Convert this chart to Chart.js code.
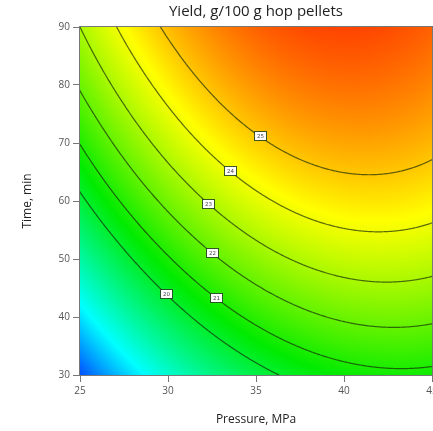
<!DOCTYPE html>
<html>
<head>
<meta charset="utf-8">
<script src="https://cdn.jsdelivr.net/npm/chart.js@4"></script>
<style>
  html, body { margin: 0; padding: 0; overflow: hidden; background: #fff; }
  canvas { display: block; }
</style>
</head>
<body>
<canvas id="contorno" width="470" height="431"></canvas>
<script>
// yield surface (g/100 g) on the pressure x time grid
var pressao = [25, 30, 35, 40, 45];
var tempo = [30, 40, 50, 60, 70, 80, 90];
var rendimento = [
  [15.10, 17.81, 19.66, 20.65, 20.79], // 30 min
  [16.83, 19.45, 21.21, 22.11, 22.15], // 40 min
  [18.40, 20.92, 22.59, 23.39, 23.34], // 50 min
  [19.80, 22.23, 23.80, 24.51, 24.37], // 60 min
  [21.03, 23.37, 24.85, 25.47, 25.23], // 70 min
  [22.10, 24.34, 25.73, 26.25, 25.92], // 80 min
  [23.00, 25.15, 26.44, 26.87, 26.45]  // 90 min
];
var niveis = [20, 21, 22, 23, 24, 25];
var ticksX = [25, 30, 35, 40, 45];
var ticksY = [30, 40, 50, 60, 70, 80, 90];

// pressure where each contour label box sits
var posRotulo = [29.9, 32.7, 32.5, 32.3, 33.5, 35.2];

// colour ramp blue -> cyan -> green -> yellow -> red
var escala = [
  [15.0, [0, 70, 255]],
  [17.2, [0, 255, 255]],
  [20.6, [0, 235, 0]],
  [24.2, [255, 255, 0]],
  [27.2, [255, 45, 0]]
];

function cor(z) {
  if (z <= escala[0][0]) return escala[0][1];
  for (var i = 1; i < escala.length; i++) {
    if (z <= escala[i][0]) {
      var a = escala[i - 1], b = escala[i];
      var f = (z - a[0]) / (b[0] - a[0]);
      return [
        a[1][0] + (b[1][0] - a[1][0]) * f,
        a[1][1] + (b[1][1] - a[1][1]) * f,
        a[1][2] + (b[1][2] - a[1][2]) * f
      ];
    }
  }
  return escala[escala.length - 1][1];
}

// catmull-rom between grid nodes
function cr(p0, p1, p2, p3, s) {
  return 0.5 * (2 * p1 + (-p0 + p2) * s + (2 * p0 - 5 * p1 + 4 * p2 - p3) * s * s + (-p0 + 3 * p1 - 3 * p2 + p3) * s * s * s);
}
function no(arr, i) {
  var n = arr.length;
  if (i < 0) return 3 * arr[0] - 3 * arr[1] + arr[2];
  if (i >= n) return 3 * arr[n - 1] - 3 * arr[n - 2] + arr[n - 3];
  return arr[i];
}
function interp(arr, u) {
  var i = Math.floor(u);
  if (i > arr.length - 2) i = arr.length - 2;
  if (i < 0) i = 0;
  return cr(no(arr, i - 1), no(arr, i), no(arr, i + 1), no(arr, i + 2), u - i);
}
function valor(p, t) {
  var u = (p - pressao[0]) / (pressao[1] - pressao[0]);
  var v = (t - tempo[0]) / (tempo[1] - tempo[0]);
  var coluna = rendimento.map(function (linha) { return interp(linha, u); });
  return interp(coluna, v);
}

// time at which the surface reaches a level for a given pressure
function acharTempo(p, nv) {
  var lo = 28, hi = 92;
  if (valor(p, lo) > nv || valor(p, hi) < nv) return null;
  for (var k = 0; k < 30; k++) {
    var m = (lo + hi) / 2;
    if (valor(p, m) < nv) lo = m; else hi = m;
  }
  return (lo + hi) / 2;
}

var superficie = {
  id: "superficie",
  beforeDatasetsDraw: function (chart) {
    var ctx = chart.ctx, a = chart.chartArea;
    var sx = chart.scales.x, sy = chart.scales.y;
    var x0 = Math.round(a.left), y0 = Math.round(a.top);
    var w = Math.round(a.right) - x0, h = Math.round(a.bottom) - y0;
    var img = ctx.createImageData(w, h);
    for (var j = 0; j < h; j++) {
      var t = sy.getValueForPixel(y0 + j + 0.5);
      for (var i = 0; i < w; i++) {
        var p = sx.getValueForPixel(x0 + i + 0.5);
        var c = cor(valor(p, t));
        var k = (j * w + i) * 4;
        img.data[k] = c[0];
        img.data[k + 1] = c[1];
        img.data[k + 2] = c[2];
        img.data[k + 3] = 255;
      }
    }
    ctx.putImageData(img, x0, y0);

    ctx.save();
    ctx.beginPath();
    ctx.rect(a.left, a.top, a.right - a.left, a.bottom - a.top);
    ctx.clip();
    ctx.strokeStyle = "rgba(20, 40, 10, 0.68)";
    ctx.lineWidth = 1.2;
    niveis.forEach(function (nv) {
      ctx.beginPath();
      var aberto = false;
      for (var p = 24.5; p <= 45.5; p += 0.05) {
        var t = acharTempo(p, nv);
        if (t === null) { aberto = false; continue; }
        var px = sx.getPixelForValue(p), py = sy.getPixelForValue(t);
        if (!aberto) { ctx.moveTo(px, py); aberto = true; } else { ctx.lineTo(px, py); }
      }
      ctx.stroke();
    });
    ctx.restore();
  },
  afterDatasetsDraw: function (chart) {
    var ctx = chart.ctx;
    var sx = chart.scales.x, sy = chart.scales.y;
    ctx.save();
    ctx.font = "5.5px 'DejaVu Sans', sans-serif";
    ctx.textAlign = "center";
    ctx.textBaseline = "middle";
    niveis.forEach(function (nv, i) {
      var t = acharTempo(posRotulo[i], nv);
      if (t === null) return;
      var px = Math.round(sx.getPixelForValue(posRotulo[i]));
      var py = Math.round(sy.getPixelForValue(t));
      ctx.fillStyle = "#fff";
      ctx.fillRect(px - 5, py - 4, 11, 8);
      ctx.strokeStyle = "rgba(40, 70, 40, 0.9)";
      ctx.lineWidth = 1;
      ctx.strokeRect(px - 5.5, py - 4.5, 12, 9);
      ctx.fillStyle = "#444";
      ctx.fillText(String(nv), px + 0.5, py + 0.5);
    });
    ctx.restore();
  },
  afterDraw: function (chart) {
    var ctx = chart.ctx, a = chart.chartArea;
    ctx.save();
    ctx.strokeStyle = "#777";
    ctx.lineWidth = 1;
    ctx.strokeRect(Math.round(a.left) - 0.5, Math.round(a.top) - 0.5, Math.round(a.right - a.left) + 1, Math.round(a.bottom - a.top) + 1);
    ctx.restore();
  }
};

var fonte = "'Open Sans', 'Noto Sans', sans-serif";

var dados_contorno = {
  type: "scatter",
  data: { datasets: [] },
  options: {
    responsive: false,
    animation: false,
    layout: { padding: { left: 0, right: 38, top: 0, bottom: 0 } },
    plugins: {
      legend: { display: false },
      tooltip: { enabled: false },
      title: {
        display: true,
        text: "Yield, g/100 g hop pellets",
        fullSize: false,
        color: "#222",
        font: { family: fonte, size: 15, weight: "normal" },
        padding: { top: 3, bottom: 6 }
      }
    },
    scales: {
      x: {
        type: "linear",
        min: 25,
        max: 45,
        afterBuildTicks: function (s) { s.ticks = ticksX.map(function (v) { return { value: v }; }); },
        afterFit: function (s) { s.height = 56; s.paddingLeft = 0; s.paddingRight = 0; },
        ticks: { color: "#555", font: { family: fonte, size: 10 }, padding: 3, maxRotation: 0 },
        grid: { drawOnChartArea: false, tickLength: 7, color: "#777" },
        border: { color: "#777" },
        title: {
          display: true,
          text: "Pressure, MPa",
          color: "#222",
          font: { family: fonte, size: 12 },
          padding: { top: 0, bottom: 4 }
        }
      },
      y: {
        type: "linear",
        min: 30,
        max: 90,
        afterBuildTicks: function (s) { s.ticks = ticksY.map(function (v) { return { value: v }; }); },
        afterFit: function (s) { s.width = 80; s.paddingTop = 0; s.paddingBottom = 0; },
        ticks: { color: "#555", font: { family: fonte, size: 10 }, padding: 3 },
        grid: { drawOnChartArea: false, tickLength: 7, color: "#777" },
        border: { color: "#777" },
        title: {
          display: true,
          text: "Time, min",
          color: "#222",
          font: { family: fonte, size: 12 },
          padding: { top: 20, bottom: 0 }
        }
      }
    }
  },
  plugins: [superficie]
};

var ctx = document.getElementById("contorno");
var chart_contorno = new Chart(ctx, dados_contorno);
</script>
</body>
</html>
